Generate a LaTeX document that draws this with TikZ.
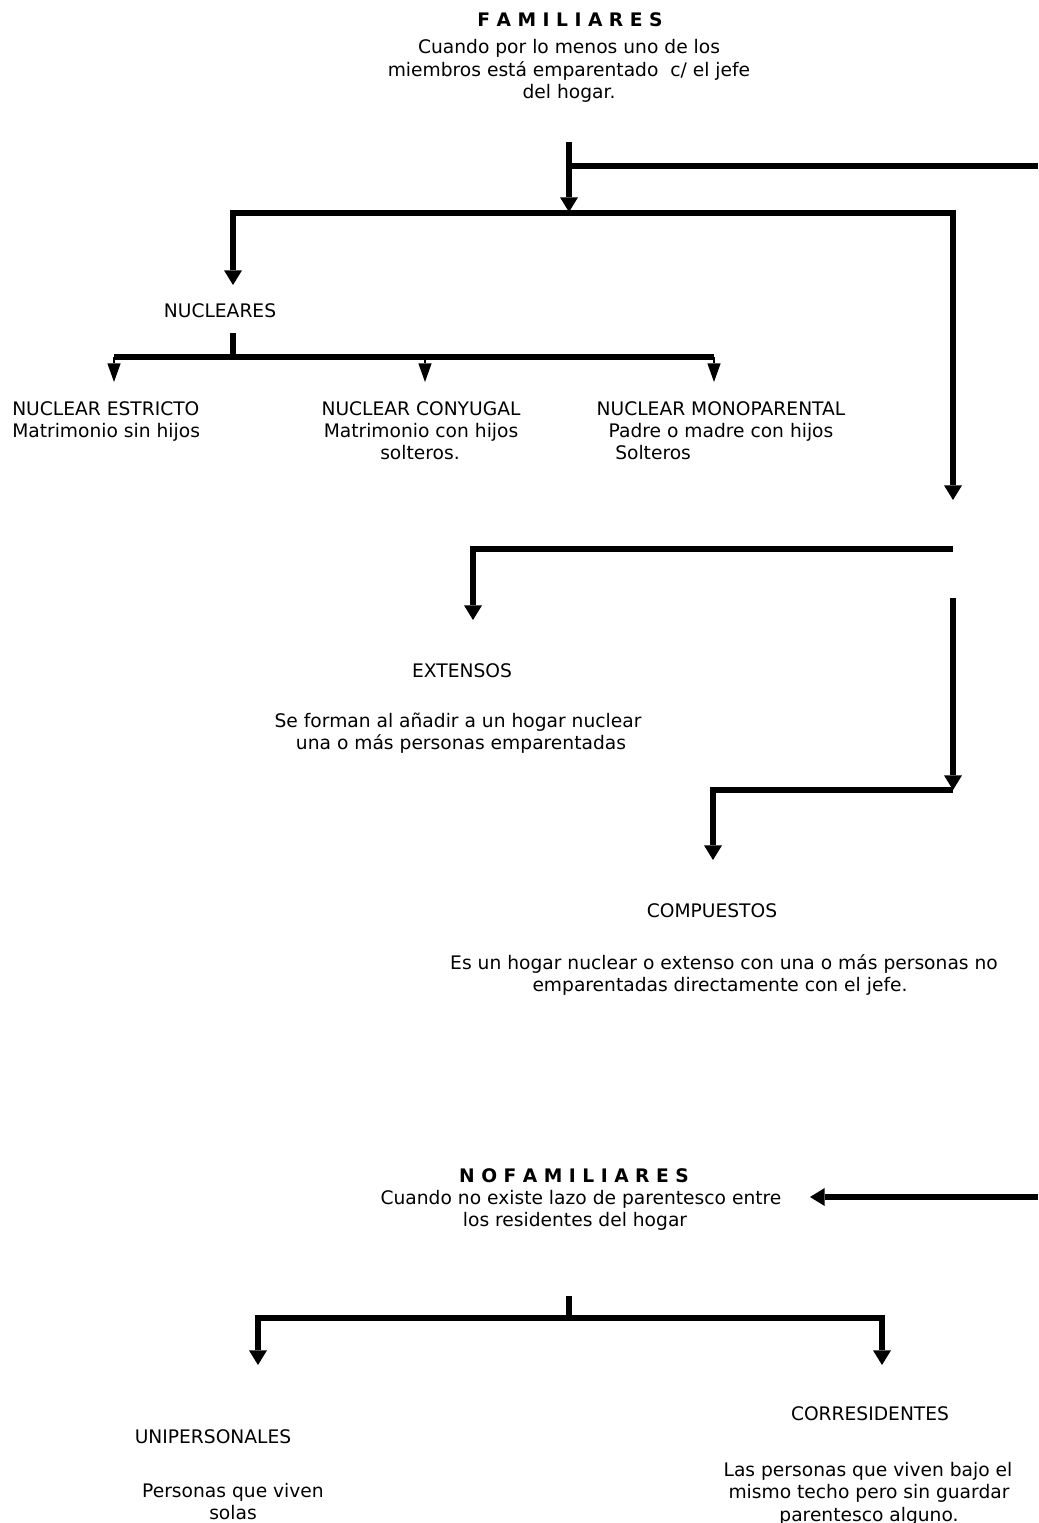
\documentclass[tikz,border=0pt]{standalone}
\usepackage{fontspec}
\setmainfont{DejaVu Sans}
\usetikzlibrary{arrows.meta}
\begin{document}
\begin{tikzpicture}[x=0.75pt,y=-0.75pt,
  txt/.style={inner sep=0pt, anchor=base, font=\fontsize{14}{16.9}\selectfont},
  txtw/.style={txt, anchor=base west},
  ttl/.style={txt, font=\fontsize{14}{16.9}\selectfont\bfseries},
  conn/.style={line width=4.5pt, line join=miter},
  bigtip/.style={-{Triangle[length=11pt,width=13.5pt,line width=0pt]}},
  bigtips/.style={{Triangle[length=11pt,width=13.5pt,line width=0pt]}-{Triangle[length=11pt,width=13.5pt,line width=0pt]}},
  smalltip/.style={line width=1.2pt, -{Triangle[length=14pt,width=10pt,line width=0pt]}}
]
\useasboundingbox (0,0) rectangle (1038,1523);

% ---------- texts ----------
\node[ttl] (famT) at (570,27) {F A M I L I A R E S};
\node[txt] (fam1) at (569,54) {Cuando por lo menos uno de los};
\node[txt] (fam2) at (569,76.5) {miembros está emparentado \ c/ el jefe};
\node[txt] (fam3) at (569,99) {del hogar.};

\node[txt] (nuc) at (220,317) {NUCLEARES};

\node[txtw] (nest1) at (12,415) {NUCLEAR ESTRICTO};
\node[txtw] (nest2) at (12,437) {Matrimonio sin hijos};

\node[txt] (ncon1) at (421,415) {NUCLEAR CONYUGAL};
\node[txt] (ncon2) at (421,437) {Matrimonio con hijos};
\node[txt] (ncon3) at (420,459) {solteros.};

\node[txt] (nmon1) at (721,415) {NUCLEAR MONOPARENTAL};
\node[txt] (nmon2) at (721,437) {Padre o madre con hijos};
\node[txtw] (nmon3) at (615,459) {Solteros};

\node[txt] (ext) at (462,677) {EXTENSOS};
\node[txt] (ext1) at (458,727) {Se forman al añadir a un hogar nuclear};
\node[txt] (ext2) at (461,749) {una o más personas emparentadas};

\node[txt] (comp) at (712,917) {COMPUESTOS};
\node[txt] (comp1) at (724,969) {Es un hogar nuclear o extenso con una o más personas no};
\node[txt] (comp2) at (720,991) {emparentadas directamente con el jefe.};

\node[ttl] (nofT) at (574,1182) {N O F A M I L I A R E S};
\node[txt] (nof1) at (581,1204) {Cuando no existe lazo de parentesco entre};
\node[txt] (nof2) at (575,1226) {los residentes del hogar};

\node[txt] (unip) at (213,1443) {UNIPERSONALES};
\node[txt] (unip1) at (233,1497) {Personas que viven};
\node[txt] (unip2) at (233,1519) {solas};

\node[txt] (cor) at (870,1420) {CORRESIDENTES};
\node[txt] (cor1) at (868,1476) {Las personas que viven bajo el};
\node[txt] (cor2) at (869,1498) {mismo techo pero sin guardar};
\node[txt] (cor3) at (869,1521) {parentesco alguno.};

% ---------- junction coordinates ----------
\coordinate (c0) at (569,142);
\coordinate (c0b) at (569,166);
\coordinate (c0e) at (1038,166);
\coordinate (c1) at (569,212);
\coordinate (h1l) at (233,213);
\coordinate (h1r) at (953,213);
\coordinate (nucTip) at (233,285);
\coordinate (rTip1) at (953,500);
\coordinate (nucS) at (233,333);
\coordinate (nucB) at (233,357);
\coordinate (nl) at (114,357);
\coordinate (nm) at (425,357);
\coordinate (nr) at (714,357);
\coordinate (nlT) at (114,382);
\coordinate (nmT) at (425,382);
\coordinate (nrT) at (714,382);
\coordinate (eR) at (953,549);
\coordinate (eL) at (473,549);
\coordinate (eTip) at (473,620);
\coordinate (r2S) at (953,598);
\coordinate (r2T) at (953,790);
\coordinate (cL) at (713,790);
\coordinate (cTip) at (713,860);
\coordinate (nfS) at (1038,1197);
\coordinate (nfT) at (810,1197);
\coordinate (bS) at (569,1296);
\coordinate (bB) at (569,1318);
\coordinate (bl) at (258,1318);
\coordinate (br) at (882,1318);
\coordinate (blT) at (258,1365);
\coordinate (brT) at (882,1365);

% ---------- connectors ----------
\draw[conn,bigtip] (c0) -- (c1);
\draw[conn] (c0b) -- (c0e);
\draw[conn,bigtips] (nucTip) -- (h1l) -- (h1r) -- (rTip1);
\draw[conn] (nucS) -- (nucB);
\draw[conn] (nl) -- (nr);
\draw[smalltip] (nl) -- (nlT);
\draw[smalltip] (nm) -- (nmT);
\draw[smalltip] (nr) -- (nrT);
\draw[conn,bigtip] (eR) -- (eL) -- (eTip);
\draw[conn,bigtip] (r2S) -- (r2T);
\draw[conn,bigtip] (r2T) -- (cL) -- (cTip);
\draw[conn,bigtip] (nfS) -- (nfT);
\draw[conn] (bS) -- (bB);
\draw[conn,bigtips] (blT) -- (bl) -- (br) -- (brT);
\end{tikzpicture}
\end{document}
